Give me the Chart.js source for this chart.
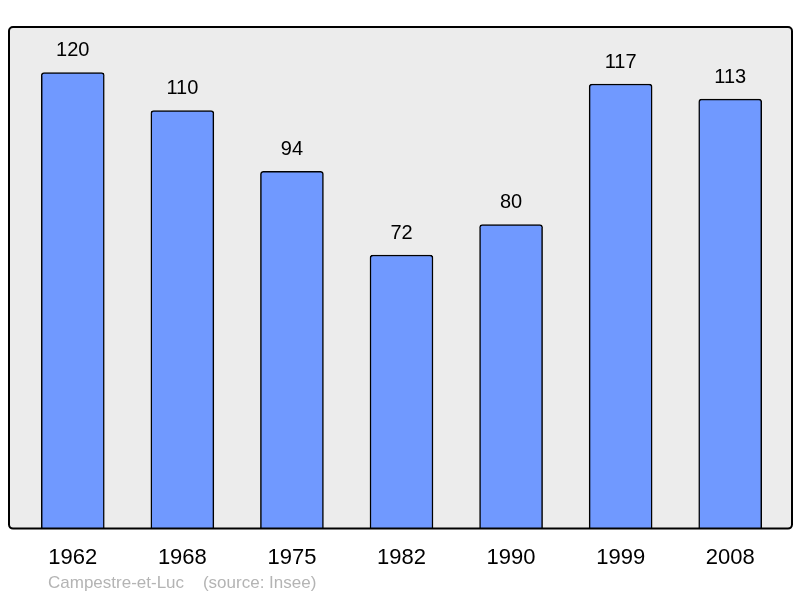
<!DOCTYPE html>
<html lang="fr">
<head>
    <meta charset="UTF-8">
    <title>Campestre-et-Luc</title>
    <script src="https://cdn.jsdelivr.net/npm/chart.js"></script>
    <style>
        body { margin: 0; background: #fff; }
        #wrap { width: 800px; height: 598px; }
    </style>
</head>
<body>
    <div id="wrap"><canvas id="popChart" width="800" height="598"></canvas></div>
    <script>
        // Population par recensement
        const years = ["1962", "1968", "1975", "1982", "1990", "1999", "2008"];
        const population = [120, 110, 94, 72, 80, 117, 113];
        const footerText = "Campestre-et-Luc    (source: Insee)";

        // grey panel behind the bars
        const panelPlugin = {
            id: "panel",
            beforeDraw(chart) {
                const { ctx, chartArea } = chart;
                const x = chartArea.left - 9, y = chartArea.top, w = chartArea.right - chartArea.left + 16, h = chartArea.bottom - chartArea.top;
                ctx.save();
                ctx.fillStyle = "#ececec";
                ctx.beginPath();
                ctx.roundRect(x, y, w, h, 4);
                ctx.fill();
                ctx.restore();
            },
            afterDatasetsDraw(chart) {
                const { ctx, chartArea } = chart;
                const x = chartArea.left - 9, y = chartArea.top, w = chartArea.right - chartArea.left + 16, h = chartArea.bottom - chartArea.top;
                ctx.save();
                ctx.strokeStyle = "#000";
                ctx.lineWidth = 2;
                ctx.beginPath();
                ctx.roundRect(x, y, w, h, 4);
                ctx.stroke();

                // value labels above each bar
                ctx.fillStyle = "#000";
                ctx.font = "20px 'Liberation Sans', Arial, sans-serif";
                ctx.textAlign = "center";
                ctx.textBaseline = "middle";
                chart.getDatasetMeta(0).data.forEach((bar, i) => {
                    ctx.fillText(String(population[i]), bar.x, bar.y - 22);
                });

                // footer
                ctx.fillStyle = "#b4b4b4";
                ctx.font = "17px 'Liberation Sans', Arial, sans-serif";
                ctx.textAlign = "left";
                ctx.fillText(footerText, 48, 583);
                ctx.restore();
            }
        };

        new Chart(document.getElementById("popChart"), {
            type: "bar",
            data: {
                labels: years,
                datasets: [{
                    data: population,
                    backgroundColor: "#7099ff",
                    borderColor: "#000",
                    borderWidth: 1.5,
                    borderRadius: { topLeft: 3, topRight: 3 },
                    borderSkipped: "bottom",
                    barThickness: 63
                }]
            },
            options: {
                responsive: false,
                animation: false,
                events: [],
                layout: { padding: { left: 18, right: 15, top: 27, bottom: 11 } },
                plugins: {
                    legend: { display: false },
                    tooltip: { enabled: false }
                },
                scales: {
                    x: {
                        grid: { display: false, drawTicks: false },
                        border: { display: false },
                        ticks: {
                            color: "#000",
                            padding: 16,
                            font: { family: "'Liberation Sans', Arial, sans-serif", size: 22 }
                        }
                    },
                    y: {
                        display: false,
                        min: 0,
                        max: 132
                    }
                }
            },
            plugins: [panelPlugin]
        });
    </script>
</body>
</html>
